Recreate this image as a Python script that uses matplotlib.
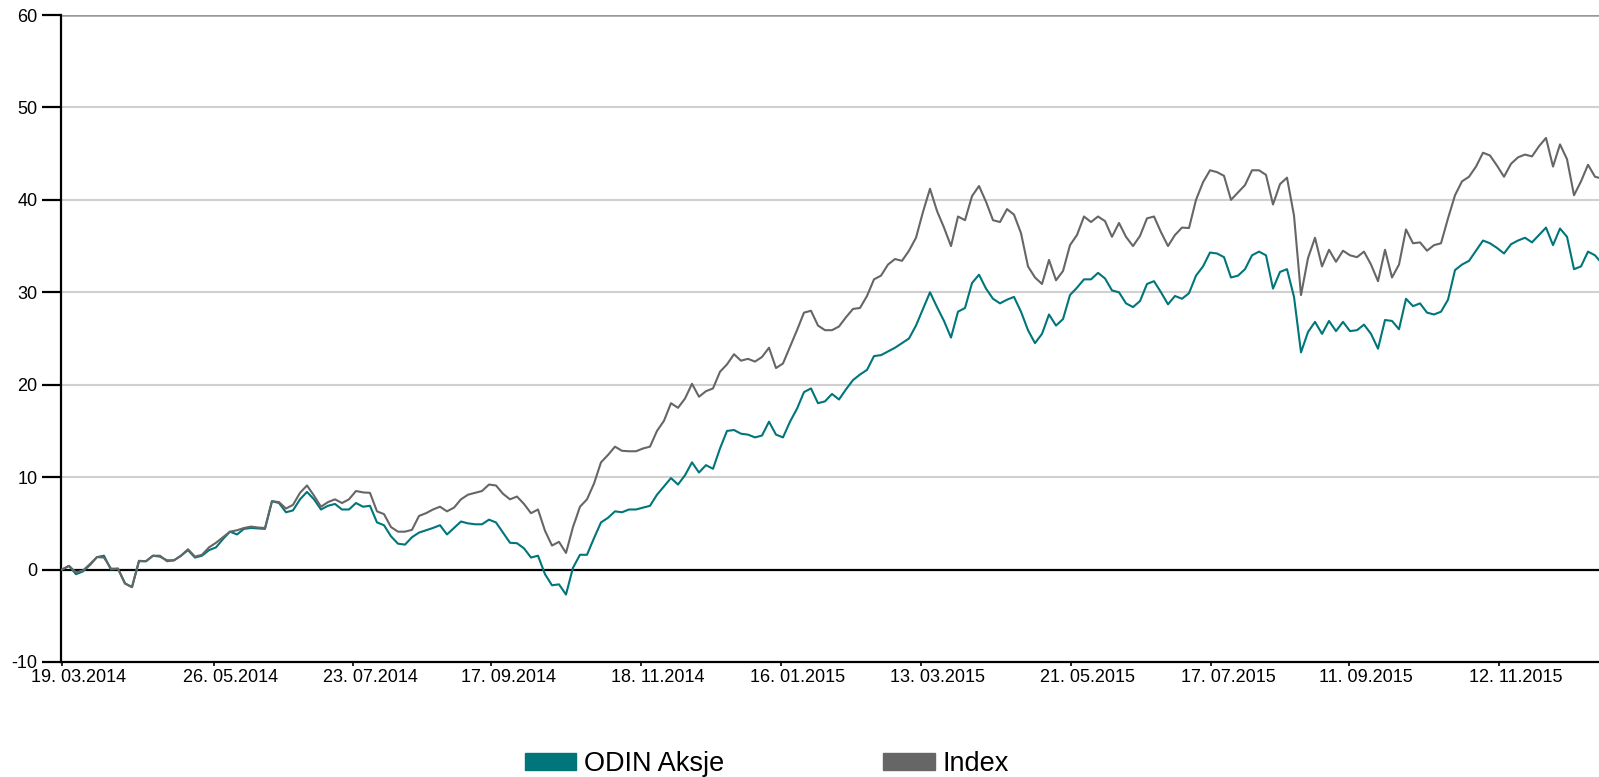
"""plot.py - ODIN Aksje vs Index, avkastning i prosent (19.03.2014 - des. 2015)."""

import matplotlib
matplotlib.use("Agg")
import matplotlib.pyplot as plt
import matplotlib.transforms as mtransforms
from matplotlib.patches import Patch
import numpy as np

plt.rcParams["font.family"] = ["Liberation Sans", "DejaVu Sans"]
plt.rcParams["axes.unicode_minus"] = False

# verdier lest av bildet, ca. annenhver handelsdag
odin = [
    0.0, 0.4, -0.5, -0.2, 0.5, 1.35, 1.5, 0.0, 0.1, -1.5,
    -1.9, 0.9, 0.9, 1.5, 1.4, 1.0, 1.0, 1.5, 2.1, 1.3,
    1.5, 2.1, 2.4, 3.3, 4.1, 3.8, 4.4, 4.5, 4.45, 4.4,
    7.4, 7.2, 6.2, 6.4, 7.6, 8.4, 7.6, 6.5, 6.9, 7.1,
    6.5, 6.5, 7.2, 6.8, 6.9, 5.1, 4.8, 3.6, 2.8, 2.7,
    3.5, 4.0, 4.25, 4.5, 4.8, 3.8, 4.5, 5.2, 5.0, 4.9,
    4.9, 5.4, 5.1, 4.0, 2.9, 2.85, 2.3, 1.3, 1.5, -0.5,
    -1.7, -1.6, -2.7, 0.2, 1.6, 1.6, 3.4, 5.1, 5.6, 6.3,
    6.2, 6.5, 6.5, 6.7, 6.9, 8.1, 9.0, 9.9, 9.2, 10.2,
    11.6, 10.5, 11.3, 10.9, 13.1, 15.0, 15.1, 14.7, 14.6, 14.3,
    14.5, 16.0, 14.6, 14.3, 16.0, 17.4, 19.2, 19.6, 18.0, 18.2,
    19.0, 18.4, 19.5, 20.5, 21.1, 21.6, 23.1, 23.2, 23.6, 24.0,
    24.5, 25.0, 26.4, 28.2, 30.0, 28.4, 26.9, 25.1, 27.9, 28.3,
    31.0, 31.9, 30.4, 29.3, 28.8, 29.2, 29.5, 27.9, 25.9, 24.5,
    25.5, 27.6, 26.4, 27.1, 29.7, 30.5, 31.4, 31.4, 32.1, 31.5,
    30.2, 30.0, 28.8, 28.4, 29.05, 30.9, 31.2, 30.0, 28.7, 29.6,
    29.3, 29.9, 31.8, 32.8, 34.3, 34.2, 33.8, 31.6, 31.8, 32.5,
    34.0, 34.4, 34.0, 30.4, 32.2, 32.5, 29.5, 23.5, 25.7, 26.8,
    25.5, 26.9, 25.8, 26.8, 25.8, 25.9, 26.5, 25.5, 23.9, 27.0,
    26.9, 26.0, 29.3, 28.5, 28.8, 27.8, 27.6, 27.9, 29.2, 32.4,
    33.0, 33.4, 34.5, 35.6, 35.3, 34.8, 34.2, 35.2, 35.6, 35.9,
    35.4, 36.2, 37.0, 35.1, 36.9, 36.0, 32.5, 32.8, 34.4, 34.0,
    33.1,
]
index = [
    0.0, 0.4, -0.3, -0.1, 0.6, 1.35, 1.3, 0.1, 0.1, -1.5,
    -1.9, 0.95, 0.9, 1.5, 1.5, 0.9, 1.0, 1.5, 2.2, 1.4,
    1.6, 2.4, 2.9, 3.5, 4.1, 4.25, 4.5, 4.65, 4.55, 4.5,
    7.4, 7.3, 6.6, 7.0, 8.3, 9.1, 8.0, 6.8, 7.3, 7.6,
    7.2, 7.6, 8.5, 8.35, 8.3, 6.3, 6.0, 4.6, 4.1, 4.1,
    4.3, 5.8, 6.1, 6.5, 6.8, 6.3, 6.7, 7.6, 8.1, 8.3,
    8.5, 9.2, 9.1, 8.2, 7.6, 7.9, 7.1, 6.1, 6.5, 4.2,
    2.6, 3.0, 1.8, 4.6, 6.8, 7.6, 9.3, 11.6, 12.4, 13.3,
    12.85, 12.8, 12.8, 13.1, 13.3, 15.0, 16.1, 18.0, 17.5, 18.5,
    20.1, 18.7, 19.3, 19.6, 21.4, 22.2, 23.3, 22.6, 22.8, 22.5,
    23.0, 24.0, 21.8, 22.3, 24.1, 25.9, 27.8, 28.0, 26.4, 25.9,
    25.9, 26.3, 27.3, 28.2, 28.3, 29.6, 31.4, 31.8, 33.0, 33.6,
    33.4, 34.5, 35.9, 38.7, 41.2, 38.8, 37.0, 35.0, 38.2, 37.8,
    40.4, 41.5, 39.8, 37.8, 37.6, 39.0, 38.4, 36.4, 32.8, 31.6,
    30.9, 33.5, 31.3, 32.3, 35.1, 36.2, 38.2, 37.6, 38.2, 37.7,
    36.0, 37.5, 36.0, 35.0, 36.1, 38.0, 38.2, 36.5, 35.0, 36.2,
    37.0, 36.95, 40.0, 41.9, 43.2, 43.0, 42.6, 40.0, 40.8, 41.6,
    43.2, 43.2, 42.7, 39.5, 41.7, 42.4, 38.3, 29.7, 33.7, 35.9,
    32.8, 34.6, 33.3, 34.5, 34.0, 33.8, 34.4, 33.0, 31.2, 34.6,
    31.6, 33.0, 36.8, 35.3, 35.4, 34.5, 35.1, 35.3, 38.0, 40.5,
    42.0, 42.5, 43.6, 45.1, 44.8, 43.7, 42.5, 43.9, 44.6, 44.9,
    44.7, 45.8, 46.7, 43.6, 46.0, 44.4, 40.5, 42.0, 43.8, 42.5,
    42.3,
]

# datoetiketter og deres plass i punktindeks
tick_labels = ["19. 03.2014", "26. 05.2014", "23. 07.2014", "17. 09.2014",
               "18. 11.2014", "16. 01.2015", "13. 03.2015", "21. 05.2015",
               "17. 07.2015", "11. 09.2015", "12. 11.2015"]
tick_pos = [0, 21.71, 41.57, 61.29, 82.71, 102.71, 122.71, 144.14,
            164.14, 183.86, 205.29]

TEAL = "#00767a"
GREY = "#666666"

fig = plt.figure(figsize=(15.99, 7.77), dpi=100)
ax = fig.add_axes([61 / 1599, 1 - 662 / 777, 1 - 61 / 1599, (662 - 15) / 777])

x = np.arange(len(odin))
ax.plot(x, odin, color=TEAL, lw=1.5, zorder=3)
ax.plot(x, index, color=GREY, lw=1.5, zorder=4)

ax.set_xlim(-0.14, 219.57)
ax.set_ylim(-10, 60)
ax.set_yticks(range(-10, 61, 10))
for v in range(10, 60, 10):
    ax.axhline(v, color="#d0d0d0", lw=1.5, zorder=1)
ax.axhline(60, color="#999999", lw=1.8, zorder=1)
ax.axhline(0, color="black", lw=1.6, zorder=2)

for side in ("top", "right"):
    ax.spines[side].set_visible(False)
for side in ("left", "bottom"):
    ax.spines[side].set_linewidth(1.6)
    ax.spines[side].set_color("black")

ax.tick_params(axis="y", length=13.5, width=1.6, pad=3.5, labelsize=13)
ax.tick_params(axis="x", length=3, width=1.2, pad=2, labelsize=13)
ax.set_xticks(tick_pos)
ax.set_xticklabels(tick_labels)
shift = mtransforms.ScaledTranslation(17 / 100, 0, fig.dpi_scale_trans)
for lab in ax.get_xticklabels():
    lab.set_transform(lab.get_transform() + shift)

handles = [Patch(color=TEAL, label="ODIN Aksje"), Patch(color=GREY, label="Index")]
fig.legend(handles=handles, loc="center", bbox_to_anchor=(767 / 1599, 1 - 764 / 777),
           ncol=2, frameon=False, fontsize=19.5, handlelength=1.9, handleheight=0.62,
           handletextpad=0.3, columnspacing=5.85)

fig.savefig("out.png", dpi=100)
